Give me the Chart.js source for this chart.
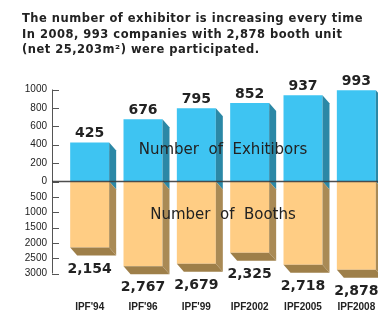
<!DOCTYPE html>
<html>
<head>
<meta charset="utf-8">
<script src="https://cdn.jsdelivr.net/npm/chart.js@4.4.1/dist/chart.umd.min.js"></script>
<style>
  html, body { margin: 0; padding: 0; background: #fff; overflow: hidden; width: 378px; height: 311px; }
  #wrap { position: relative; width: 390px; height: 311px; }
  #title { position: absolute; left: 22px; top: 11px; font: bold 11.5px "DejaVu Sans", sans-serif; letter-spacing: 0.5px; line-height: 15.5px; color: #222; white-space: nowrap; }
  canvas { position: absolute; left: 0; top: 0; }
</style>
</head>
<body>
<div id="wrap">
  <canvas id="c" width="390" height="311"></canvas>
  <div id="title">The number of exhibitor is increasing every time<br>In 2008, 993 companies with 2,878 booth unit<br>(net 25,203m²) were participated.</div>
</div>
<script>
const categories = ["IPF'94", "IPF'96", "IPF'99", "IPF2002", "IPF2005", "IPF2008"];
const exhibitors = [425, 676, 795, 852, 937, 993];
const booths = [2154, 2767, 2679, 2325, 2718, 2878];
const topTicks = [0, 200, 400, 600, 800, 1000];
const bottomTicks = [500, 1000, 1500, 2000, 2500, 3000];
const exhibitorsLabel = "Number  of  Exhitibors";
const boothsLabel = "Number  of  Booths";

const C = {
  blue: '#3EC4F2', blueSide: '#2B88A6',
  orange: '#FFCD84', orangeSide: '#A98A55', orangeBottom: '#9E7F49',
  axis: '#555', text: '#222'
};
const DX = 7, DY = 8;

const fmt = v => v.toLocaleString('en-US');

const threeD = {
  id: 'threeD',
  afterDatasetsDraw(chart) {
    const ctx = chart.ctx;
    const ca = chart.chartArea;
    const yTop = chart.scales.yTop, yBot = chart.scales.yBot;
    const poly = (pts, color) => {
      ctx.beginPath();
      ctx.moveTo(pts[0][0], pts[0][1]);
      for (let i = 1; i < pts.length; i++) ctx.lineTo(pts[i][0], pts[i][1]);
      ctx.closePath();
      ctx.fillStyle = color;
      ctx.fill();
    };
    ctx.save();
    const mTop = chart.getDatasetMeta(0).data;
    const mBot = chart.getDatasetMeta(1).data;
    mTop.forEach(el => {
      const r = el.x + el.width / 2;
      poly([[r, el.y], [r + DX, el.y + DY], [r + DX, el.base + DY], [r, el.base]], C.blueSide);
    });
    mBot.forEach(el => {
      const l = el.x - el.width / 2, r = el.x + el.width / 2;
      poly([[r, el.base], [r + DX, el.base + DY], [r + DX, el.y + DY], [r, el.y]], C.orangeSide);
      poly([[l, el.y], [r, el.y], [r + DX, el.y + DY], [l + DX, el.y + DY]], C.orangeBottom);
    });
    // axis line and ticks
    const axX = ca.left - 11;
    ctx.strokeStyle = C.axis;
    ctx.lineWidth = 1;
    ctx.beginPath();
    ctx.moveTo(axX + 0.5, yTop.top);
    ctx.lineTo(axX + 0.5, yBot.bottom);
    topTicks.forEach(v => { const y = Math.round(yTop.getPixelForValue(v)) + 0.5; ctx.moveTo(axX, y); ctx.lineTo(axX + 7, y); });
    bottomTicks.forEach(v => { const y = Math.round(yBot.getPixelForValue(v)) + 0.5; ctx.moveTo(axX, y); ctx.lineTo(axX + 7, y); });
    ctx.stroke();
    // zero line
    const zy = yTop.getPixelForValue(0);
    ctx.strokeStyle = 'rgba(60,60,60,0.9)';
    ctx.lineWidth = 1.5;
    ctx.beginPath();
    ctx.moveTo(axX, zy);
    ctx.lineTo(chart.width, zy);
    ctx.stroke();
    // value labels
    ctx.fillStyle = C.text;
    ctx.font = 'bold 14px "DejaVu Sans", sans-serif';
    ctx.textAlign = 'center';
    ctx.textBaseline = 'middle';
    mTop.forEach((el, i) => ctx.fillText(fmt(exhibitors[i]), el.x, el.y - 9));
    mBot.forEach((el, i) => ctx.fillText(fmt(booths[i]), el.x, el.y + 21.5));
    // series names
    ctx.font = '15px "DejaVu Sans", sans-serif';
    const cx = (ca.left + ca.right) / 2;
    ctx.fillText(exhibitorsLabel, cx, (yTop.top + yTop.bottom) / 2 + 14.5);
    ctx.fillText(boothsLabel, cx, (yBot.top + yBot.bottom) / 2 - 12.5);
    ctx.restore();
  }
};

const yTickOpts = { color: C.text, font: { family: 'Liberation Sans', size: 10 }, padding: 16, autoSkip: false, callback: v => String(v) };

new Chart(document.getElementById('c'), {
  type: 'bar',
  data: {
    labels: categories,
    datasets: [
      { label: 'Number of Exhibitors', data: exhibitors, yAxisID: 'yTop', backgroundColor: C.blue, grouped: false, barPercentage: 0.731, categoryPercentage: 1 },
      { label: 'Number of Booths', data: booths, yAxisID: 'yBot', backgroundColor: C.orange, grouped: false, barPercentage: 0.731, categoryPercentage: 1 }
    ]
  },
  options: {
    responsive: false,
    animation: false,
    devicePixelRatio: 1,
    layout: { padding: { left: 0, right: 7, top: 89.5, bottom: 0 } },
    plugins: { legend: { display: false }, tooltip: { enabled: false }, title: { display: false } },
    scales: {
      x: {
        grid: { display: false, drawTicks: true, tickLength: 27.5 },
        border: { display: false },
        afterFit: s => { s.height = 37.5; },
        ticks: { color: C.text, font: { family: 'Liberation Sans', size: 10, weight: 'bold' }, padding: 0, maxRotation: 0, autoSkip: false }
      },
      yBot: {
        position: 'left', stack: 'v', stackWeight: 1, min: 0, max: 3000, reverse: true,
        grid: { display: false, drawTicks: false }, border: { display: false },
        afterBuildTicks: s => { s.ticks = bottomTicks.map(v => ({ value: v })); },
        afterFit: s => { s.width = 63; },
        ticks: yTickOpts
      },
      yTop: {
        position: 'left', stack: 'v', stackWeight: 1, min: 0, max: 1000,
        grid: { display: false, drawTicks: false }, border: { display: false },
        afterBuildTicks: s => { s.ticks = topTicks.map(v => ({ value: v })); },
        afterFit: s => { s.width = 63; },
        ticks: yTickOpts
      }
    }
  },
  plugins: [threeD]
});
</script>
</body>
</html>
